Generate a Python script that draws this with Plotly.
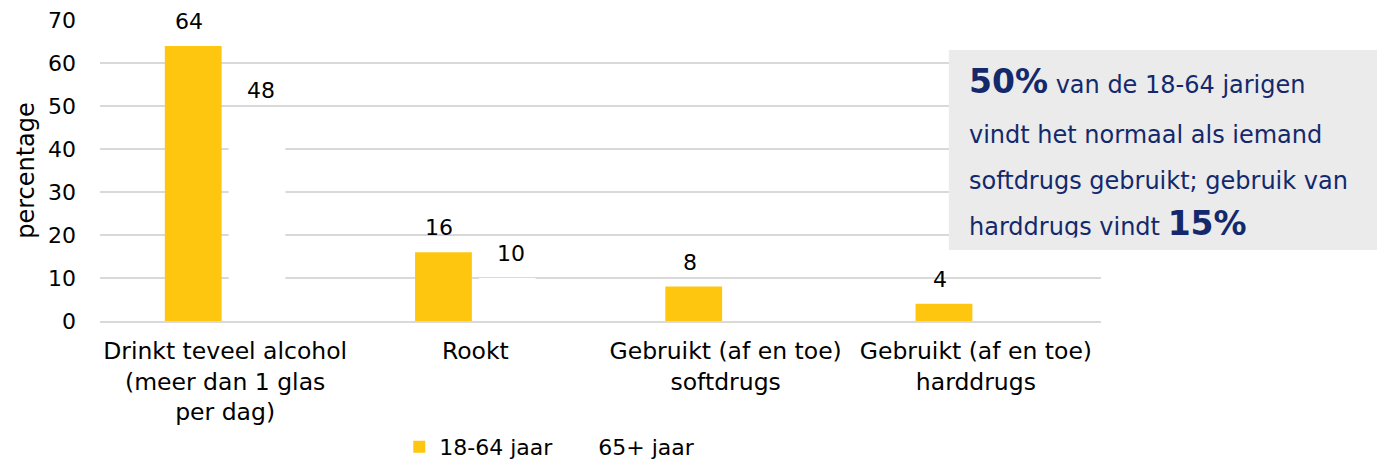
import plotly.graph_objects as go

categories = ["Drinkt teveel alcohol<br>(meer dan 1 glas<br>per dag)", "Rookt",
              "Gebruikt (af en toe)<br>softdrugs", "Gebruikt (af en toe)<br>harddrugs"]
series_names = ["18-64 jaar", "65+ jaar"]
values_1864 = [64, 16, 8, 4]
values_65 = [48, 10, None, None]
y_ticks = [0, 10, 20, 30, 40, 50, 60, 70]

YELLOW = "#FEC60F"
NAVY = "#13296B"
FONT = "DejaVu Sans"

fig = go.Figure()
fig.add_trace(go.Bar(name=series_names[0], x=categories, y=values_1864, marker_color=YELLOW,
                     marker_line_width=0, offsetgroup="a"))
fig.add_trace(go.Bar(name=series_names[1], x=categories, y=values_65, marker_color="#FFFFFF",
                     marker_line_width=0, offsetgroup="b"))

# value labels
for vals, shift in [(values_1864, -36), (values_65, 36)]:
    for c, v in zip(categories, vals):
        if v is None:
            continue
        fig.add_annotation(x=c, y=v, text=str(v), showarrow=False, xshift=shift, yshift=10,
                           yanchor="bottom", font=dict(family=FONT, size=22, color="#000000"))

# text box
fig.add_shape(type="rect", xref="paper", yref="paper", x0=0.848, x1=1.2797, y0=0.2359, y1=0.9003,
              fillcolor="#EBEBEB", line_width=0, layer="above")
lines = [
    '<b><span style="font-size:33px">50%</span></b> van de 18-64 jarigen',
    'vindt het normaal als iemand',
    'softdrugs gebruikt; gebruik van',
    'harddrugs vindt <b><span style="font-size:33px">15%</span></b>',
]
baselines = [96, 144, 190, 238]
for t, b in zip(lines, baselines):
    fig.add_annotation(xref="paper", yref="paper", x=(970 - 100) / 1001, y=(321 - b) / 301,
                       text=t, showarrow=False, xanchor="left", yanchor="bottom", yshift=-7,
                       xshift=-3, font=dict(family=FONT, size=24, color=NAVY))
# clip bottom of the box text
fig.add_annotation(xref="paper", yref="paper", x=0.848, y=0.2359, text=" ", showarrow=False,
                   xanchor="left", yanchor="bottom", width=430, height=11, bgcolor="#EBEBEB",
                   borderpad=0, font=dict(size=8))

# page body has an 8px margin, so the figure is sized/offset to compensate
fig.update_layout(
    width=1377, height=459,
    margin=dict(l=92, r=284, t=12, b=146, autoexpand=False),
    paper_bgcolor="white", plot_bgcolor="white",
    barmode="group", bargap=0.49, bargroupgap=0.11,
    font=dict(family=FONT, size=22, color="#000000"),
    showlegend=True,
    legend=dict(orientation="h", x=0.299, xanchor="left", y=-(447 - 321) / 301, yanchor="middle",
                font=dict(family=FONT, size=22, color="#000000"), traceorder="normal"),
)
fig.update_yaxes(range=[0, 70.02], tickvals=y_ticks, showgrid=True, gridcolor="#D9D9D9", gridwidth=2,
                 zeroline=False, showline=False, ticks="", ticklabelstandoff=23, automargin=False,
                 ticklabeloverflow="allow",
                 title=dict(text="percentage", font=dict(family=FONT, size=24), standoff=6),
                 tickfont=dict(family=FONT, size=22))
fig.update_xaxes(showline=True, linecolor="#D9D9D9", linewidth=2, ticks="", automargin=False,
                 ticklabelstandoff=8, tickfont=dict(family=FONT, size=23.5))

fig.write_html("out.html")
